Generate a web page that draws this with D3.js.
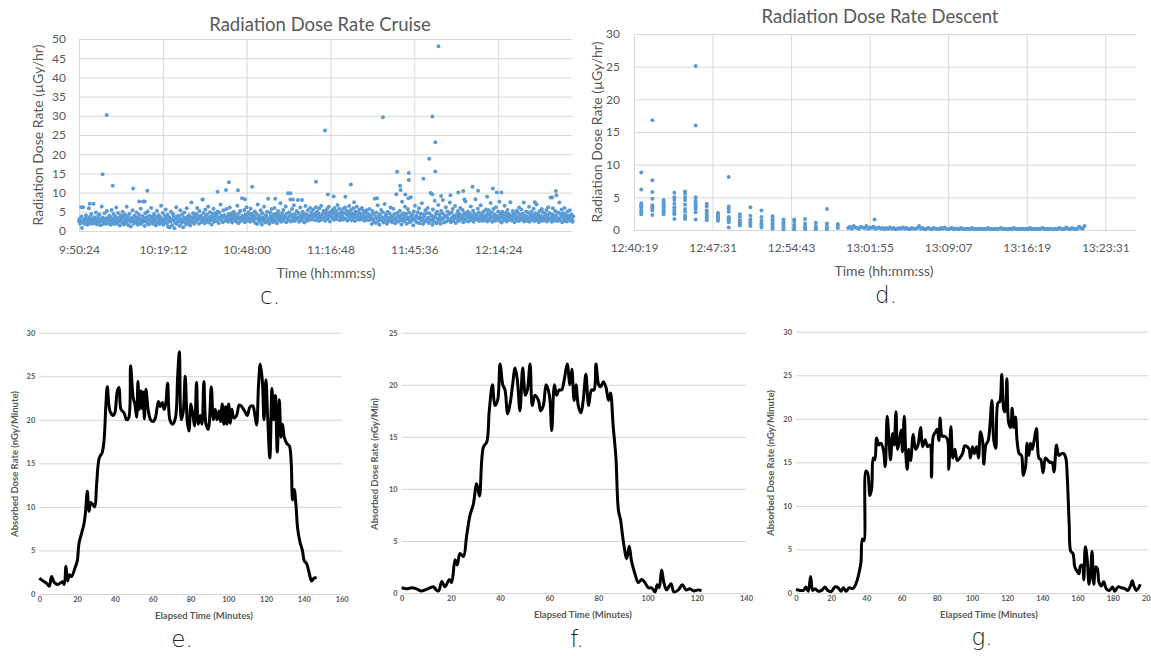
<!DOCTYPE html>
<html>
<head>
<meta charset="utf-8">
<script src="https://cdn.jsdelivr.net/npm/d3@7"></script>
<style>
  body { margin: 0; background: #fff; }
  svg { display: block; }
  .top text { font-family: Lato, "Open Sans", sans-serif; fill: #595959; }
  .bot text { font-family: Lato, "Open Sans", sans-serif; font-weight: bold; fill: #595959; }
  .panel-letter { font-family: "DejaVu Sans", sans-serif; font-weight: 200; font-size: 23px; fill: #222; }
</style>
</head>
<body>
<svg id="fig" width="1151" height="656"></svg>
<script>

/*********************/
/*** DATA          ***/
/*********************/

// c. cruise: regular samples every 12 s from the first tick, plus the spikes
var cruise_ticks = ["9:50:24", "10:19:12", "10:48:00", "11:16:48", "11:45:36", "12:14:24"];
var cruise_end = "12:39:46";
var cruise_step = 12;
var cruise_band = [
  2.6,3.1,1.9,2.4,3.8,0.8,2.2,6.2,3.0,2.7,1.8,3.4,4.1,2.5,2.9,1.6,3.3,5.9,2.1,3.7,2.8,4.4,1.9,3.0,2.3,7.1,3.6,2.0,2.7,4.8,3.2,1.7,2.5,3.9,2.2,4.3,3.1,1.5,2.8,6.4,3.5,2.4,1.8,3.0,4.6,2.6,3.3,1.9,5.2,2.9,
  3.4,2.1,4.0,2.7,1.6,3.6,5.5,2.3,3.0,4.4,1.8,2.9,3.8,2.5,6.1,1.9,3.2,4.7,2.4,3.5,1.4,2.8,4.1,3.1,2.2,5.0,3.7,1.7,2.6,4.3,3.3,2.0,6.3,2.8,3.9,1.5,3.0,4.5,2.4,1.2,3.4,2.7,5.4,3.1,1.9,4.0,2.5,3.6,2.2,4.8,
  2.9,1.6,3.5,4.2,2.3,3.1,5.8,1.8,2.7,3.9,7.7,2.4,3.3,1.3,4.6,2.8,3.6,2.1,5.1,3.0,1.7,4.0,2.6,3.4,6.0,2.2,3.8,1.9,2.9,4.4,3.2,2.5,1.4,3.7,5.3,2.0,3.1,4.1,2.7,1.8,3.5,6.6,2.3,3.0,4.7,1.6,2.8,3.9,2.4,5.6,
  3.3,2.0,4.2,1.1,2.7,3.6,0.9,2.4,5.0,3.1,1.5,4.5,2.8,3.9,0.7,2.2,3.4,6.2,1.8,2.9,4.0,2.5,3.7,1.3,5.4,3.0,2.1,4.3,2.6,1.0,3.5,4.8,2.3,3.2,1.7,5.9,2.8,3.8,2.0,4.1,3.3,1.4,2.6,7.4,3.6,2.2,4.6,3.0,1.9,3.9,
  3.4,2.5,4.4,6.0,2.9,3.8,1.9,5.2,3.1,4.0,2.3,3.6,8.2,2.7,4.7,3.3,2.0,5.6,3.9,2.6,4.2,3.0,6.4,2.2,3.5,4.9,2.8,3.7,1.7,4.5,3.2,5.8,2.4,3.9,4.6,3.0,4.3,2.6,5.1,3.6,2.1,4.8,3.3,6.9,2.9,4.0,3.5,2.3,5.4,3.8,
  4.1,2.7,3.6,5.7,3.0,3.8,2.4,4.4,3.2,6.1,2.8,3.9,4.6,2.2,3.4,4.1,5.0,2.9,3.7,4.2,2.5,3.3,6.6,3.8,2.0,4.7,3.1,5.3,2.6,3.5,8.5,4.0,2.8,3.6,5.5,2.3,4.3,3.0,6.2,3.7,2.7,4.9,4.4,3.2,2.4,5.8,3.9,2.9,4.5,3.4,
  2.6,3.8,5.1,2.1,3.3,4.4,1.8,6.9,2.9,3.6,4.0,2.4,5.4,3.1,1.7,4.6,3.5,2.7,6.3,3.0,2.2,4.1,3.7,5.0,2.5,8.4,3.2,1.9,4.8,3.9,2.8,5.7,3.4,2.3,4.3,3.0,6.0,2.6,3.8,4.5,2.0,3.5,5.2,2.9,4.2,3.3,7.2,2.4,3.7,4.7,
  3.1,5.5,2.7,4.0,3.6,6.4,2.3,4.5,3.3,9.8,2.8,4.9,3.8,8.2,2.5,4.2,5.7,3.0,3.5,6.7,2.6,4.4,3.9,2.9,5.2,3.4,8.1,4.7,2.4,3.7,6.1,3.2,4.1,2.8,5.0,3.6,4.6,2.2,3.9,6.5,3.1,4.3,2.7,5.4,3.5,4.0,2.9,6.0,3.8,4.8,
  4.2,3.0,5.6,3.7,3.9,4.5,2.8,6.2,3.9,5.1,3.3,4.7,2.6,5.9,4.0,3.5,6.6,2.9,4.4,4.5,5.3,3.6,4.9,2.7,5.0,4.1,5.7,3.2,4.6,6.3,3.8,2.5,5.0,4.3,4.0,3.4,5.5,4.8,2.9,6.0,3.7,4.2,5.2,3.1,6.8,4.4,3.9,5.8,2.8,4.7,
  3.6,5.0,4.2,2.9,5.8,3.4,4.7,6.1,3.1,4.4,5.3,2.7,3.9,4.8,6.5,3.2,4.0,5.5,2.8,4.6,3.7,5.9,3.3,4.3,2.6,5.1,3.8,6.3,4.1,3.0,4.9,3.5,5.6,2.9,4.5,3.9,6.0,3.2,4.2,5.2,2.7,3.6,4.8,3.3,5.4,4.0,2.8,4.4,3.7,5.7,
  2.9,4.1,3.4,1.8,5.2,3.0,4.5,2.4,8.4,3.7,2.1,4.8,3.3,6.7,2.6,3.9,1.6,4.3,3.1,5.5,2.8,3.6,4.9,2.2,3.4,7.0,2.7,4.2,3.8,1.9,5.0,3.2,2.5,4.6,3.5,6.1,2.9,4.0,2.3,3.7,5.8,3.0,4.4,2.0,3.3,9.6,2.6,4.7,3.9,2.4,
  3.6,5.3,2.8,4.1,1.7,7.6,3.2,4.6,2.5,3.9,6.3,2.9,4.4,1.9,3.5,5.7,3.0,4.8,2.3,3.7,8.8,2.7,4.2,3.4,1.5,5.1,3.1,6.6,2.6,4.0,3.8,2.2,4.9,3.3,5.9,2.0,3.6,4.5,2.8,7.2,3.2,1.8,4.3,3.9,2.4,5.4,3.0,4.7,2.6,6.0,
  3.5,2.1,4.6,3.0,9.9,2.7,4.0,1.6,5.6,3.3,2.4,7.9,3.8,4.4,2.0,5.0,3.1,6.8,2.6,4.2,3.6,1.9,5.3,2.9,4.7,8.1,3.4,2.2,4.1,3.7,6.2,2.5,3.9,5.1,3.2,2.8,4.5,7.4,3.0,2.3,4.8,3.6,5.7,2.7,4.0,3.3,6.5,2.1,3.8,4.3,
  3.1,5.2,2.6,4.4,3.7,6.0,2.9,4.1,3.4,5.5,2.3,3.9,4.7,3.0,7.7,2.7,4.3,3.6,5.0,2.5,3.8,4.6,3.2,6.4,2.8,4.0,3.5,5.3,2.4,4.5,3.1,8.3,3.7,4.2,2.9,5.8,3.3,4.8,2.6,3.9,6.7,3.0,4.4,3.6,2.7,5.1,3.4,4.0,2.8,5.6,
  3.9,2.5,4.6,3.2,5.4,2.8,4.1,7.3,3.5,4.8,2.4,3.7,5.7,3.0,4.3,2.7,6.2,3.6,4.0,2.9,5.1,3.3,7.6,2.6,4.5,3.8,2.2,5.0,3.4,4.2,2.8,6.6,3.1,4.7,3.9,2.5,5.5,3.2,4.4,2.9,3.7,7.5,3.0,4.1,2.7,5.2,3.5,4.6,2.3,3.8,
  4.0,2.9,5.3,3.4,4.7,2.6,6.1,3.7,4.2,3.0,5.6,2.8,4.5,3.5,7.4,2.5,4.0,3.2,5.1,3.8,2.7,4.8,3.3,6.3,2.4,4.3,3.6,5.0,2.9,4.1,3.1,5.8,2.6,3.9,4.6,3.4,6.9,2.8,4.4,3.7,2.3,5.2,3.0,4.0,3.5,5.7,2.7,4.9,3.2,3.8,
  2.8,4.5,3.3,5.5,2.5,4.0,6.2,3.1,4.7,2.9,8.7,3.6,2.4,4.3,5.9,3.0,3.8,2.7,5.2,4.1,9.3,3.4,2.6,4.8,3.2,7.4,2.8,4.4,3.7,5.6,2.3,3.9,4.6,3.1,6.0,2.7,4.2,3.5,2.5,5.1,3.3,4.0,2.9,5.4,3.6,2.6,4.3,3.0,2.4,3.8
];
var cruise_spike_min  = [9.5, 8.1, 11.6, 18.6, 23.5, 20.7, 22.6, 3.7, 0.8, 47.6, 50.5, 51.5, 54.6, 59.5, 42.5, 57, 67.4, 72.6, 73.5, 76.6, 81.4, 84.5, 85.5, 87.5, 91.5, 93.4, 94.5, 102.4, 104.4, 109.3, 110.3, 110.5, 112.1, 113.2, 113.3, 113.3, 118.3, 120.3, 121.4, 122.4, 122.4, 121.4, 123.5, 124.4, 127.6, 130.3, 132, 135.2, 137.1, 140.2, 142.2, 143.5, 145.1, 132.4, 163.8, 162.6, 156.6];
var cruise_spike_dose = [30.2, 14.8, 11.8, 11.1, 10.5, 7.7, 7.7, 7.1, 6.2, 10.2, 10.7, 12.7, 10.6, 11.5, 8.2, 8.3, 8.4, 9.8, 8.2, 8.1, 12.8, 26.2, 9.5, 9.0, 8.9, 12.1, 7.5, 8.5, 29.6, 15.4, 11.8, 10.7, 9.5, 8.5, 15.1, 13.3, 13.6, 18.8, 29.8, 23.1, 15.5, 9.6, 48.1, 9.1, 9.3, 10.0, 10.4, 11.5, 10.5, 8.9, 11.1, 10.0, 10.0, 8.2, 10.4, 8.7, 7.5];
var cruise_y_ticks = [0, 5, 10, 15, 20, 25, 30, 35, 40, 45, 50];

// d. descent: one column of readings per minute, then a 10 s tail near zero
var descent_ticks = ["12:40:19", "12:47:31", "12:54:43", "13:01:55", "13:09:07", "13:16:19", "13:23:31"];
var descent_end = "13:26:20";
var descent_col_sec = [40, 101, 163, 222, 281, 339, 400, 462, 521, 582, 640, 701, 762, 822, 881, 941, 1000, 1061, 1121];
var descent_col_dose = [
  [8.8, 6.2, 4.1, 3.8, 3.6, 3.4, 3.0, 2.7, 2.4],
  [16.8, 7.6, 5.8, 4.8, 3.8, 3.5, 3.3, 3.0, 2.3],
  [4.6, 4.3, 4.0, 3.8, 3.5, 3.2, 3.0, 2.7, 2.4],
  [5.7, 5.0, 4.6, 4.0, 3.5, 3.2, 2.9, 2.6, 2.4, 1.7],
  [5.9, 5.6, 5.0, 4.6, 3.9, 3.2, 2.8, 2.2, 1.9, 1.7],
  [25.1, 16.0, 5.0, 4.5, 4.1, 3.8, 3.5, 3.2, 2.7, 1.6],
  [4.0, 3.6, 3.0, 2.6, 2.3, 2.0, 1.8, 1.5],
  [2.6, 2.4, 2.2, 2.0, 1.8, 1.6, 1.4],
  [8.1, 3.6, 3.3, 2.8, 2.0, 1.8, 1.6, 1.4, 1.2, 0.4],
  [2.4, 2.0, 1.5, 1.2, 0.9, 0.7],
  [3.5, 2.2, 1.6, 1.2, 0.9, 0.6],
  [3.0, 2.0, 1.4, 1.0, 0.7, 0.4],
  [2.1, 1.7, 1.4, 1.0, 0.8, 0.5, 0.2],
  [1.6, 1.2, 0.9, 0.6, 0.3, 0.1],
  [1.6, 1.3, 0.8, 0.5, 0.2, 0.1],
  [1.7, 1.0, 0.6, 0.4, 0.1],
  [1.1, 0.6, 0.3, 0.1],
  [3.2, 1.0, 0.6, 0.3, 0.1],
  [0.9, 0.6, 0.3]
];
var descent_tail_start = 1178;
var descent_tail_step = 10;
var descent_tail = [
  0.3,0.5,0.2,0.6,0.4,0.3,0.2,0.5,0.4,0.3, 0.6,0.2,0.4,0.3,0.5,0.2,0.3,0.4,0.2,0.3,
  0.1,0.3,0.2,0.4,0.2,0.3,0.1,0.2,0.3,0.2, 0.4,0.2,0.3,0.2,0.1,0.3,0.2,0.2,0.3,0.6,
  0.2,0.3,0.1,0.2,0.3,0.2,0.1,0.3,0.2,0.2, 0.1,0.3,0.2,0.4,0.2,0.1,0.2,0.3,0.1,0.2,
  0.2,0.1,0.3,0.2,0.1,0.2,0.2,0.1,0.3,0.1, 0.2,0.1,0.2,0.2,0.1,0.2,0.1,0.3,0.1,0.2,
  0.1,0.2,0.1,0.2,0.3,0.1,0.2,0.1,0.1,0.2, 0.1,0.3,0.2,0.1,0.2,0.1,0.2,0.1,0.2,0.1,
  0.3,0.1,0.2,0.1,0.2,0.1,0.2,0.3,0.1,0.2, 0.1,0.2,0.1,0.1,0.2,0.1,0.3,0.2,0.1,0.2,
  0.4,0.2,0.1,0.3,0.2,0.1,0.2,0.5,0.3,0.2, 0.6
];
var descent_spike_sec  = [1323];
var descent_spike_dose = [1.6];
var descent_y_ticks = [0, 5, 10, 15, 20, 25, 30];

// e. absorbed dose rate, flight 1
var e_min  = [0,2,4,5.3,6.5,8,10,12.3,13.2,14.1,15,15.9,17,18.9,20.1,21,22.4,23.6,24.5,25.4,26.3,27.2,28.2,29.3,30.3,31.7,33.2,34.2,35.3,36,37.4,39.2,40,41.3,42.2,43.2,44.8,46.2,47.3,48.3,49.7,50.6,51.5,52.2,52.9,53.8,54.5,55,55.6,56.4,57.7,58.9,60.3,61.4,63,64,65.1,66.1,67,67.9,69.1,70.5,72,73.2,74.1,75.1,76.2,77.2,78.3,79.2,80.2,81.3,82.2,83.2,84.1,85.2,86.1,87.1,88.2,89.4,91,92.1,93.1,94,95.1,95.9,96.8,97.7,98.6,99.3,100.2,101.1,101.9,103,104.4,105.8,107.2,108.6,110,111.5,112.9,114.1,115,116,116.9,118,118.9,119.9,120.8,122,123.1,124,124.9,125.9,127,127.9,128.7,129.6,130.9,132.3,133.3,134,134.9,135.8,136.7,137.9,139.2,140.2,141.4,142.7,144.1,145.3,146.7];
var e_dose = [1.8,1.5,1.2,0.9,2.0,1.3,1.1,1.4,1.1,3.2,1.5,2.2,2.0,3.0,3.8,5.8,7.0,8.0,9.5,11.8,9.5,10.5,10.3,10.0,12.5,15.6,16.2,17.5,22.0,23.8,21.0,20.5,20.8,23.3,23.7,21.2,20.8,20.0,20.2,26.2,22.5,21.8,20.3,24.4,21.2,23.3,21.3,23.2,20.1,23.5,21.0,20.0,19.8,20.2,22.1,21.5,22.0,21.2,22.0,24.2,20.0,19.5,20.2,25.0,27.8,20.0,21.0,25.0,19.8,18.7,21.8,20.5,19.3,24.3,19.5,20.5,19.5,24.4,19.5,18.9,23.8,20.0,21.2,20.0,21.0,19.8,21.8,19.5,21.5,19.5,21.8,19.6,21.2,20.2,20.5,21.7,21.5,21.0,20.5,21.5,21.6,20.5,19.4,24.0,26.4,24.5,20.0,24.6,20.5,15.6,23.6,20.0,22.8,16.3,22.3,18.0,19.5,18.0,17.3,17.0,15.0,10.8,12.0,10.2,7.5,6.0,5.0,3.8,3.5,2.5,1.5,1.8,1.9];
var e_x_ticks = [0, 20, 40, 60, 80, 100, 120, 140, 160];
var e_y_ticks = [0, 5, 10, 15, 20, 25, 30];

// f. absorbed dose rate, flight 2
var f_min  = [0,2,4,6,8,9.5,11.5,12.9,14,15,16.3,17.6,19.4,20.3,21.7,22.6,23.7,25.1,26.4,27.8,29.1,30.5,31.6,33.2,34.6,35.6,36.9,37.9,39,40,41.1,42,43.1,44.3,45.1,46.1,47,48.1,49.2,50.3,51.1,52.2,53.1,54.2,55.6,56.5,57.6,58.7,59.6,60.3,61,62.1,63,64,65,66.1,67.3,68.4,69.2,70.1,70.9,71.8,72.9,73.8,74.9,76,77.2,78.2,79,80.1,80.9,82,83,84.1,84.9,86,87.1,88.1,89,90.1,91.5,92.5,93.5,94.9,96.2,97.6,98.9,100.3,101.6,103,103.9,104.7,105.7,106.6,107.7,109.5,110.7,112.5,114.1,115.6,117.2,118.8,120.6,121.9];
var f_dose = [0.5,0.4,0.5,0.4,0.2,0.3,0.5,0.6,0.3,0.2,1.1,0.6,1.3,1.0,3.2,2.7,3.8,3.5,5.5,7.5,8.5,10.5,9.3,14.0,14.5,17.5,20.0,18.0,18.5,22.0,20.0,19.5,17.2,18.5,20.0,21.6,20.5,17.5,21.6,19.0,19.5,22.0,18.0,19.0,18.5,17.5,18.0,20.0,19.5,18.5,15.6,20.0,19.0,19.5,19.5,20.5,22.0,20.0,21.5,18.5,20.0,18.0,17.3,18.5,21.0,18.0,19.5,19.5,22.0,20.0,19.8,20.3,19.8,18.5,19.2,16.0,13.0,8.0,7.0,5.0,3.3,4.5,3.0,1.8,1.0,1.3,1.0,0.5,0.5,0.1,0.8,0.5,2.2,1.0,0.3,0.9,0.1,0.3,0.8,0.3,0.4,0.2,0.3,0.2];
var f_x_ticks = [0, 20, 40, 60, 80, 100, 120, 140];
var f_y_ticks = [0, 5, 10, 15, 20, 25];

// g. absorbed dose rate, flight 3
var g_min  = [0,2.3,4.2,5.7,7,8.3,9.5,10.8,12.7,14.6,16.5,18,20.2,22.1,24,25.5,26.9,28.4,30.3,32.2,33.5,34.8,36,36.9,37.7,38.6,39.7,40.7,42,43,43.9,44.8,45.8,47.1,48.2,49.6,50.7,51.8,53,53.7,54.9,55.8,56.8,57.7,58.7,59.8,60.5,61.5,62.4,63.2,64.1,65.1,66.6,67.9,69.3,70.8,71.9,73.4,74.7,76.1,77,78,79.3,80.2,81.2,81.9,83.1,84.6,86.1,86.8,88,89.1,90.3,91.6,93.1,94.6,95.9,97.3,98.4,99.1,100.3,101.4,102.6,103.7,104.8,106,106.7,107.9,109.2,110.1,111.3,112.4,113.5,114.7,115.8,116.9,118.1,118.8,119.8,120.9,122,122.8,123.7,124.7,125.6,126.8,128.1,129.1,130.4,131.3,132.3,133.2,134.2,135.3,136.6,138,139.1,140.4,141.7,142.8,144.2,145.5,146.6,148,149.3,150.8,152.1,153.3,154.2,155.2,156.1,157.4,158.4,159.7,160.8,161.6,162.7,163.5,164.4,165.4,166.5,167.3,168.2,169.2,170.3,171.2,172.2,173.5,174.8,176.3,178.2,179.8,181.1,183,184.9,186.8,188.6,190,191.1,192,193.4,194.7,195.6];
var g_dose = [0.4,0.3,0.3,0.7,0.2,1.9,0.3,0.5,0.2,0.3,0.7,0.3,0.2,0.7,0.6,0.2,0.6,0.2,0.6,0.5,0.8,1.5,2.5,3.5,6.2,6.0,14.0,13.8,11.2,12.0,15.5,15.3,17.8,17.0,17.2,16.5,14.5,20.3,17.0,15.3,18.3,17.0,20.8,16.5,17.5,18.7,16.2,20.3,16.0,14.2,16.5,15.2,18.2,16.5,17.0,19.0,16.8,17.6,16.8,17.0,13.3,18.0,18.5,18.8,17.5,20.1,18.0,18.0,17.6,14.2,19.1,15.5,16.5,15.2,15.5,16.0,16.9,16.8,16.5,15.5,16.8,16.0,16.8,15.5,18.5,17.5,14.8,17.0,17.5,19.0,22.1,17.5,16.6,21.8,22.0,25.1,21.0,20.8,24.6,19.5,19.0,21.2,19.0,20.2,17.5,16.0,15.8,13.5,14.5,17.2,15.8,17.2,16.5,17.5,18.9,15.5,15.3,13.8,15.5,15.3,15.0,15.0,13.9,17.0,15.8,16.0,16.0,15.5,13.0,8.0,4.8,4.5,3.0,2.5,2.2,3.1,3.2,1.5,5.3,4.0,1.0,2.0,4.8,1.0,3.0,2.8,1.2,0.8,1.3,0.5,0.3,0.7,0.2,0.7,0.6,0.5,0.3,0.8,1.4,0.8,0.3,0.6,1.0];
var g_x_ticks = [0, 20, 40, 60, 80, 100, 120, 140, 160, 180, 200];
var g_y_ticks = [0, 5, 10, 15, 20, 25, 30];

/*********************/
/*** INIT          ***/
/*********************/

var svg = d3.select('#fig');

var dot_colour  = '#5b9bd5',
    grid_colour = '#d9d9d9';

/********************************/
/*** DECLARE HELPER FUNCTIONS ***/
/********************************/

function parse_hms(s) {
    var p = s.split(':').map(Number);
    return p[0] * 3600 + p[1] * 60 + p[2];
}

function format_hms(sec) {
    var h = Math.floor(sec / 3600),
        m = Math.floor((sec % 3600) / 60),
        s = Math.round(sec % 60);
    return h + ':' + (m < 10 ? '0' : '') + m + ':' + (s < 10 ? '0' : '') + s;
}

function strip_axis(sel) {
    sel.attr('font-family', null).attr('font-size', null);
    sel.select('.domain').remove();
}

function render_scatter(p, points) {
    var g = svg.append('g').attr('class', 'top');

    var x = d3.scaleLinear().domain(p.x_domain).range([p.left, p.right]),
        y = d3.scaleLinear().domain([0, p.y_max]).range([p.bottom, p.top]);

    // gridlines
    g.append('g')
        .attr('transform', `translate(${p.left},0)`)
        .call(d3.axisLeft(y).tickValues(p.y_ticks).tickSize(-(p.right - p.left)).tickFormat(''))
        .call(strip_axis);
    g.append('g')
        .attr('transform', `translate(0,${p.bottom})`)
        .call(d3.axisBottom(x).tickValues(p.x_ticks).tickSize(-(p.bottom - p.top)).tickFormat(''))
        .call(strip_axis);
    g.selectAll('.tick line').attr('stroke', grid_colour);

    // tick labels
    g.append('g')
        .attr('transform', `translate(${p.left},0)`)
        .call(d3.axisLeft(y).tickValues(p.y_ticks).tickSize(0).tickPadding(p.y_pad).tickFormat(d3.format('d')))
        .call(strip_axis)
        .selectAll('text').style('font-size', '12px');
    g.append('g')
        .attr('transform', `translate(0,${p.bottom})`)
        .call(d3.axisBottom(x).tickValues(p.x_ticks).tickSize(0).tickPadding(p.x_pad).tickFormat(format_hms))
        .call(strip_axis)
        .selectAll('text').style('font-size', '12px');

    // dots
    g.append('g').selectAll('circle')
        .data(points)
        .join('circle')
        .attr('cx', d => x(d.t))
        .attr('cy', d => y(d.v))
        .attr('r', 2)
        .attr('fill', dot_colour);

    // titles
    g.append('text')
        .attr('x', p.title_x).attr('y', p.title_y)
        .attr('text-anchor', 'middle')
        .style('font-size', '18.5px')
        .text(p.title);
    g.append('text')
        .attr('x', p.xt_x).attr('y', p.xt_y)
        .attr('text-anchor', 'middle')
        .style('font-size', '14px')
        .text('Time (hh:mm:ss)');
    g.append('text')
        .attr('transform', `translate(${p.yt_x},${(p.top + p.bottom) / 2}) rotate(-90)`)
        .attr('text-anchor', 'middle')
        .attr('dy', '0.35em')
        .style('font-size', '14px')
        .text('Radiation Dose Rate (\u00b5Gy/hr)');
}

function render_line(p, xs, ys) {
    var g = svg.append('g').attr('class', 'bot');

    var x = d3.scaleLinear().domain([0, p.x_max]).range([p.left, p.right]),
        y = d3.scaleLinear().domain([0, p.y_max]).range([p.bottom, p.top]);

    g.append('g')
        .attr('transform', `translate(${p.left},0)`)
        .call(d3.axisLeft(y).tickValues(p.y_ticks).tickSize(-(p.right - p.left)).tickFormat(''))
        .call(strip_axis)
        .selectAll('.tick line').attr('stroke', '#d4d4d4');

    g.append('g')
        .attr('transform', `translate(${p.left},0)`)
        .call(d3.axisLeft(y).tickValues(p.y_ticks).tickSize(0).tickPadding(4))
        .call(strip_axis)
        .selectAll('text').style('font-size', '7.5px');
    g.append('g')
        .attr('transform', `translate(0,${p.bottom})`)
        .call(d3.axisBottom(x).tickValues(p.x_ticks).tickSize(0).tickPadding(3))
        .call(strip_axis)
        .selectAll('text').style('font-size', '7.5px');

    var line = d3.line()
        .x((d, i) => x(xs[i]))
        .y(d => y(d))
        .curve(d3.curveCatmullRom.alpha(0.5));

    g.append('path')
        .attr('d', line(ys))
        .attr('fill', 'none')
        .attr('stroke', '#000')
        .attr('stroke-width', 3)
        .attr('stroke-linejoin', 'round');

    g.append('text')
        .attr('x', p.xt_x).attr('y', p.bottom + 25)
        .attr('text-anchor', 'middle')
        .style('font-size', '9.5px')
        .text('Elapsed Time (Minutes)');
    g.append('text')
        .attr('transform', `translate(${p.yt_x},${p.yt_y}) rotate(-90)`)
        .attr('text-anchor', 'middle')
        .attr('dy', '0.35em')
        .style('font-size', '9.5px')
        .text(p.y_title);
}

function panel_letter(txt, x, y) {
    svg.append('text')
        .attr('class', 'panel-letter')
        .attr('x', x).attr('y', y)
        .attr('text-anchor', 'middle')
        .text(txt);
}

/*********************/
/*** BUILD POINTS  ***/
/*********************/

var cruise_t0 = parse_hms(cruise_ticks[0]);
var cruise_points = cruise_band.map((v, i) => ({t: cruise_t0 + i * cruise_step, v: v}))
    .concat(cruise_spike_min.map((m, i) => ({t: cruise_t0 + m * 60, v: cruise_spike_dose[i]})));

var descent_t0 = parse_hms(descent_ticks[0]);
var descent_points = [];
descent_col_sec.forEach(function(s, i) {
    descent_col_dose[i].forEach(function(v) { descent_points.push({t: descent_t0 + s, v: v}); });
});
descent_tail.forEach(function(v, i) {
    descent_points.push({t: descent_t0 + descent_tail_start + i * descent_tail_step, v: v});
});
descent_spike_sec.forEach(function(s, i) {
    descent_points.push({t: descent_t0 + s, v: descent_spike_dose[i]});
});

/*********************/
/*** RENDER        ***/
/*********************/

render_scatter({
    left: 79, right: 572, top: 39, bottom: 231,
    x_domain: [cruise_t0, parse_hms(cruise_end)], x_ticks: cruise_ticks.map(parse_hms),
    y_max: 50, y_ticks: cruise_y_ticks,
    y_pad: 13, x_pad: 14,
    title: 'Radiation Dose Rate Cruise', title_x: 320, title_y: 31,
    xt_x: 326, xt_y: 278, yt_x: 38
}, cruise_points);

render_scatter({
    left: 634, right: 1136, top: 34, bottom: 230,
    x_domain: [descent_t0, parse_hms(descent_end)], x_ticks: descent_ticks.map(parse_hms),
    y_max: 30, y_ticks: descent_y_ticks,
    y_pad: 14, x_pad: 13,
    title: 'Radiation Dose Rate Descent', title_x: 880, title_y: 23,
    xt_x: 884, xt_y: 276, yt_x: 597
}, descent_points);

render_line({
    left: 39.3, right: 341.7, top: 332.7, bottom: 594,
    x_max: 160, x_ticks: e_x_ticks, y_max: 30, y_ticks: e_y_ticks,
    xt_x: 204, yt_x: 15, yt_y: 464,
    y_title: 'Absorbed Dose Rate (nGy/Minute)'
}, e_min, e_dose);

render_line({
    left: 401.7, right: 746, top: 332.7, bottom: 593,
    x_max: 140, x_ticks: f_x_ticks, y_max: 25, y_ticks: f_y_ticks,
    xt_x: 583, yt_x: 375, yt_y: 464,
    y_title: 'Absorbed Dose Rate (nGy/Min)'
}, f_min, f_dose);

render_line({
    left: 796, right: 1148, top: 331.7, bottom: 593,
    x_max: 200, x_ticks: g_x_ticks, y_max: 30, y_ticks: g_y_ticks,
    xt_x: 989, yt_x: 771, yt_y: 463,
    y_title: 'Absorbed Dose Rate (nGy/Minute)'
}, g_min, g_dose);

panel_letter('c.', 270, 304);
panel_letter('d.', 886, 303);
panel_letter('e.', 182, 647);
panel_letter('f.', 577, 647);
panel_letter('g.', 982, 645);

</script>
</body>
</html>
